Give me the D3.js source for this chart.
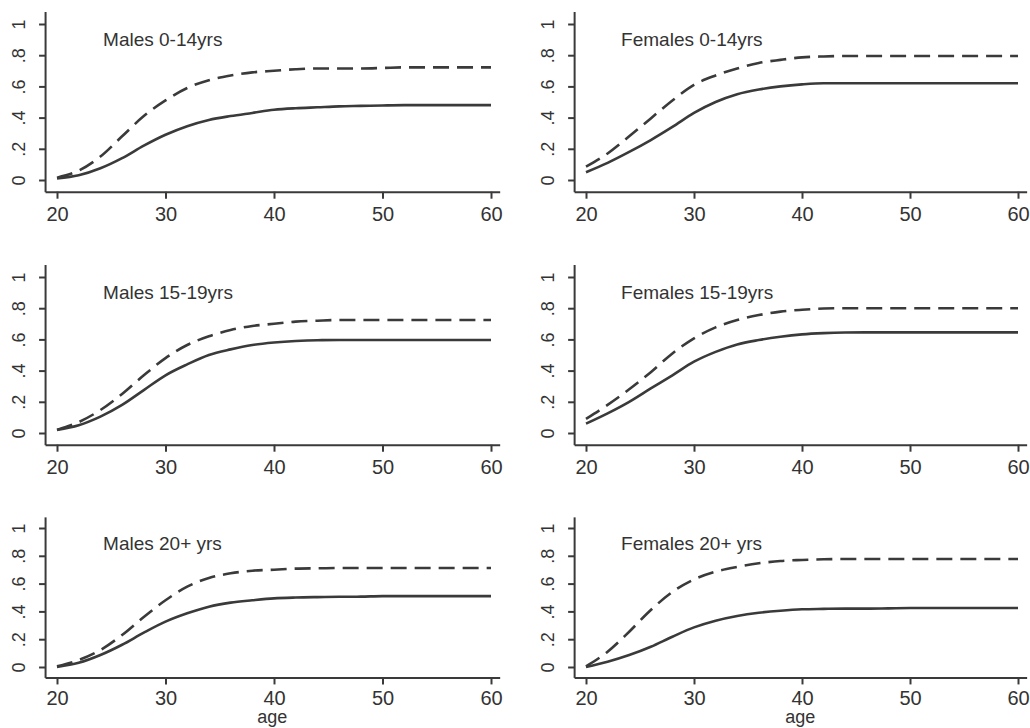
<!DOCTYPE html>
<html>
<head>
<meta charset="utf-8">
<script src="https://cdn.jsdelivr.net/npm/d3@7"></script>
<style>
  body { margin: 0; background: #fff; }
  text { font-family: "Liberation Sans", Arial, sans-serif; fill: #333; }
</style>
</head>
<body>
<div id="chart"></div>
<script>
const ages = [20, 22, 24, 26, 28, 30, 32, 34, 36, 38, 40, 42, 44, 46, 48, 50, 52, 54, 56, 58, 60];

const xTicks = [20, 30, 40, 50, 60];
const yTicks = [0, 0.2, 0.4, 0.6, 0.8, 1];
const yTickLabels = ["0", ".2", ".4", ".6", ".8", "1"];

const titles = ["Males 0-14yrs", "Females 0-14yrs", "Males 15-19yrs", "Females 15-19yrs", "Males 20+ yrs", "Females 20+ yrs"];

// solid curves
const m014Solid = [0.01, 0.03, 0.075, 0.14, 0.22, 0.29, 0.345, 0.385, 0.41, 0.43, 0.45, 0.46, 0.466, 0.472, 0.475, 0.478, 0.48, 0.48, 0.48, 0.48, 0.48];
const f014Solid = [0.05, 0.11, 0.18, 0.256, 0.34, 0.43, 0.5, 0.55, 0.58, 0.6, 0.613, 0.62, 0.62, 0.62, 0.62, 0.62, 0.62, 0.62, 0.62, 0.62, 0.62];
const m1519Solid = [0.02, 0.05, 0.105, 0.18, 0.275, 0.37, 0.44, 0.5, 0.536, 0.564, 0.58, 0.59, 0.595, 0.596, 0.596, 0.596, 0.596, 0.596, 0.596, 0.596, 0.596];
const f1519Solid = [0.06, 0.126, 0.2, 0.286, 0.37, 0.457, 0.52, 0.568, 0.596, 0.617, 0.632, 0.64, 0.644, 0.645, 0.645, 0.645, 0.645, 0.645, 0.645, 0.645, 0.645];
const m20Solid = [0.0, 0.03, 0.086, 0.16, 0.247, 0.326, 0.386, 0.434, 0.463, 0.48, 0.494, 0.5, 0.503, 0.505, 0.506, 0.51, 0.51, 0.51, 0.51, 0.51, 0.51];
const f20Solid = [0.0, 0.038, 0.086, 0.146, 0.218, 0.285, 0.333, 0.367, 0.39, 0.405, 0.415, 0.418, 0.42, 0.42, 0.422, 0.424, 0.424, 0.424, 0.424, 0.424, 0.424];

// dashed curves
const m014Dash = [0.015, 0.06, 0.15, 0.28, 0.41, 0.51, 0.59, 0.64, 0.67, 0.69, 0.7, 0.71, 0.715, 0.715, 0.715, 0.718, 0.722, 0.722, 0.722, 0.722, 0.722];
const f014Dash = [0.085, 0.17, 0.28, 0.395, 0.51, 0.61, 0.67, 0.715, 0.75, 0.77, 0.786, 0.792, 0.795, 0.795, 0.795, 0.795, 0.795, 0.795, 0.795, 0.795, 0.795];
const m1519Dash = [0.02, 0.07, 0.147, 0.25, 0.37, 0.48, 0.564, 0.62, 0.66, 0.686, 0.7, 0.714, 0.72, 0.724, 0.724, 0.724, 0.724, 0.724, 0.724, 0.724, 0.724];
const f1519Dash = [0.09, 0.18, 0.28, 0.39, 0.51, 0.607, 0.677, 0.724, 0.756, 0.778, 0.79, 0.798, 0.8, 0.8, 0.8, 0.8, 0.8, 0.8, 0.8, 0.8, 0.8];
const m20Dash = [0.005, 0.05, 0.122, 0.23, 0.36, 0.48, 0.578, 0.64, 0.674, 0.693, 0.7, 0.708, 0.71, 0.712, 0.712, 0.712, 0.712, 0.712, 0.712, 0.712, 0.712];
const f20Dash = [0.005, 0.11, 0.254, 0.41, 0.54, 0.63, 0.686, 0.72, 0.746, 0.763, 0.77, 0.775, 0.777, 0.777, 0.777, 0.777, 0.777, 0.777, 0.777, 0.777, 0.777];

const solidSeries = [m014Solid, f014Solid, m1519Solid, f1519Solid, m20Solid, f20Solid];
const dashSeries = [m014Dash, f014Dash, m1519Dash, f1519Dash, m20Dash, f20Dash];

// layout: pixel range of 20..60 per column and 0..1 per row
const COLS = [{ x20: 57, x60: 491, titleDx: 58 }, { x20: 586, x60: 1018, titleDx: 47 }];
const ROWS = [{ y0: 180, y1: 24, lab: 29 }, { y0: 433, y1: 277, lab: 29 }, { y0: 667, y1: 528, lab: 28 }];
const INK = "#3a3a3a";

const svg = d3.select("#chart")
  .append("svg")
  .attr("width", 1030)
  .attr("height", 728);

svg.append("rect").attr("width", 1030).attr("height", 728).attr("fill", "#fff");

titles.forEach((title, i) => {
  const col = COLS[i % 2];
  const row = ROWS[Math.floor(i / 2)];

  const x = d3.scaleLinear().domain([20, 60]).range([col.x20, col.x60]);
  const y = d3.scaleLinear().domain([0, 1]).range([row.y0, row.y1]);

  const xAxisScale = x.copy().domain([18.9, 60.8]).range([x(18.9), x(60.8)]);
  const yAxisScale = y.copy().domain([-0.075, 1.08]).range([y(-0.075), y(1.08)]);

  const g = svg.append("g");

  // x axis
  const xg = g.append("g")
    .attr("transform", `translate(0, ${y(-0.075)})`)
    .call(d3.axisBottom(xAxisScale).tickValues(xTicks).tickSize(7).tickSizeOuter(0));
  xg.selectAll("path, line").attr("stroke", INK).attr("stroke-width", 2);
  xg.selectAll("text")
    .attr("y", row.lab).attr("dy", 0)
    .style("font-size", "20px")
    .attr("fill", "#333");

  // y axis
  const yg = g.append("g")
    .attr("transform", `translate(${x(18.9)}, 0)`)
    .call(d3.axisLeft(yAxisScale).tickValues(yTicks).tickFormat((d, k) => yTickLabels[k]).tickSize(6).tickSizeOuter(0));
  yg.selectAll("path, line").attr("stroke", INK).attr("stroke-width", 2);
  yg.selectAll("text")
    .attr("x", 0).attr("dy", 0)
    .attr("transform", "translate(-20, 0) rotate(-90)")
    .attr("text-anchor", "middle")
    .style("font-size", "18px")
    .attr("fill", "#333");

  const line = d3.line()
    .x((d, k) => x(ages[k]))
    .y(d => y(d))
    .curve(d3.curveMonotoneX);

  g.append("path")
    .datum(dashSeries[i])
    .attr("d", line)
    .attr("fill", "none")
    .attr("stroke", INK)
    .attr("stroke-width", 2.6)
    .attr("stroke-dasharray", "16,8");

  g.append("path")
    .datum(solidSeries[i])
    .attr("d", line)
    .attr("fill", "none")
    .attr("stroke", INK)
    .attr("stroke-width", 2.6);

  g.append("text")
    .attr("x", x(18.9) + col.titleDx)
    .attr("y", y(1) + 22)
    .style("font-size", "19px")
    .text(title);

  if (i >= 4) {
    g.append("text")
      .attr("x", (x(18.9) + x(60.8)) / 2)
      .attr("y", y(-0.075) + 46)
      .attr("text-anchor", "middle")
      .style("font-size", "18px")
      .text("age");
  }
});
</script>
</body>
</html>
